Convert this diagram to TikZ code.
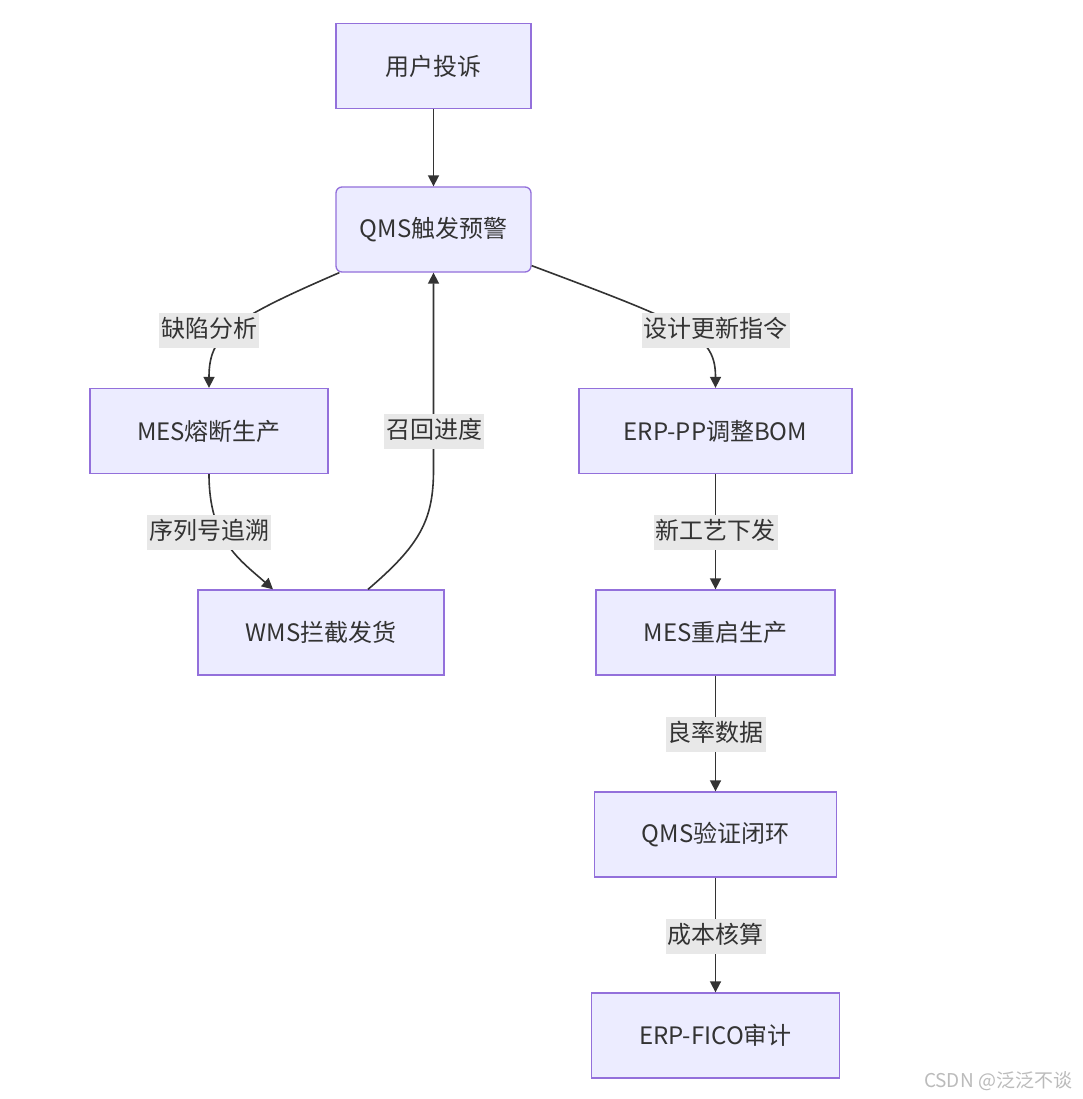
\documentclass[tikz,border=0pt]{standalone}
\usepackage{fontspec}
\setmainfont{Noto Sans CJK SC}
\usetikzlibrary{arrows.meta}

\definecolor{boxfill}{HTML}{ECECFF}
\definecolor{boxborder}{HTML}{9370DB}
\definecolor{labelbg}{HTML}{E8E8E8}
\definecolor{textgray}{HTML}{333333}
\definecolor{markgray}{HTML}{BBBBBB}

\tikzset{
  box/.style={draw=boxborder, fill=boxfill, line width=1.3pt, minimum height=85pt,
              text=textgray, font=\fontsize{24}{28}\selectfont},
  flow/.style={draw=textgray, line width=1.6pt, -{Triangle[length=11pt,width=11pt]}},
  edgelabel/.style={fill=labelbg, text=textgray, inner xsep=2pt, inner ysep=5.5pt,
                    text height=19pt, text depth=5pt, font=\fontsize{24}{28}\selectfont},
}

\begin{document}
\begin{tikzpicture}[x=1pt, y=-1pt]
\useasboundingbox (0,0) rectangle (1082,1099); % adjust bounding box
\fill[white] (0,0) rectangle (1082,1099);

\node[box, minimum width=195pt] (complaint) at (433.5, 66) {用户投诉};
\node[box, minimum width=195pt, rounded corners=6pt] (alert) at (433.5, 229.5) {QMS触发预警};
\node[box, minimum width=238pt] (halt) at (209, 431) {MES熔断生产};
\node[box, minimum width=246pt] (block) at (321, 632.5) {WMS拦截发货};
\node[box, minimum width=273pt] (bom) at (715.5, 431) {ERP-PP调整BOM};
\node[box, minimum width=239pt] (restart) at (715.5, 632.5) {MES重启生产};
\node[box, minimum width=242pt] (verify) at (715.5, 834.5) {QMS验证闭环};
\node[box, minimum width=248pt] (audit) at (715.5, 1035.5) {ERP-FICO审计};

\draw[flow] (complaint) -- (alert);
\draw[flow] ([xshift=4pt]alert.south west) .. controls (230,320) and (209,335) .. (halt.north);
\draw[flow] ([yshift=7pt]alert.south east) .. controls (690,325) and (715.5,335) .. (bom.north);
\draw[flow] (halt.south) .. controls (209,540) and (240,560) .. ([xshift=-48pt]block.north);
\draw[flow] ([xshift=47pt]block.north) .. controls (420,545) and (433.5,520) .. (433.5,470) -- (alert.south);
\draw[flow] (bom) -- (restart);
\draw[flow] (restart) -- (verify);
\draw[flow] (verify) -- (audit);

\node[edgelabel] (lbldefect) at (209, 330.5) {缺陷分析};
\node[edgelabel] (lbldesign) at (715.5, 330) {设计更新指令};
\node[edgelabel] (lbltrace) at (209, 532) {序列号追溯};
\node[edgelabel] (lblrecall) at (434, 431.5) {召回进度};
\node[edgelabel] (lblprocess) at (715.5, 532) {新工艺下发};
\node[edgelabel] (lblyield) at (715.5, 734) {良率数据};
\node[edgelabel] (lblcost) at (715.5, 936) {成本核算};

\node[text=markgray, font=\fontsize{19}{22}\selectfont] (mark) at (998, 1081) {CSDN @泛泛不谈};
\end{tikzpicture}
\end{document}
